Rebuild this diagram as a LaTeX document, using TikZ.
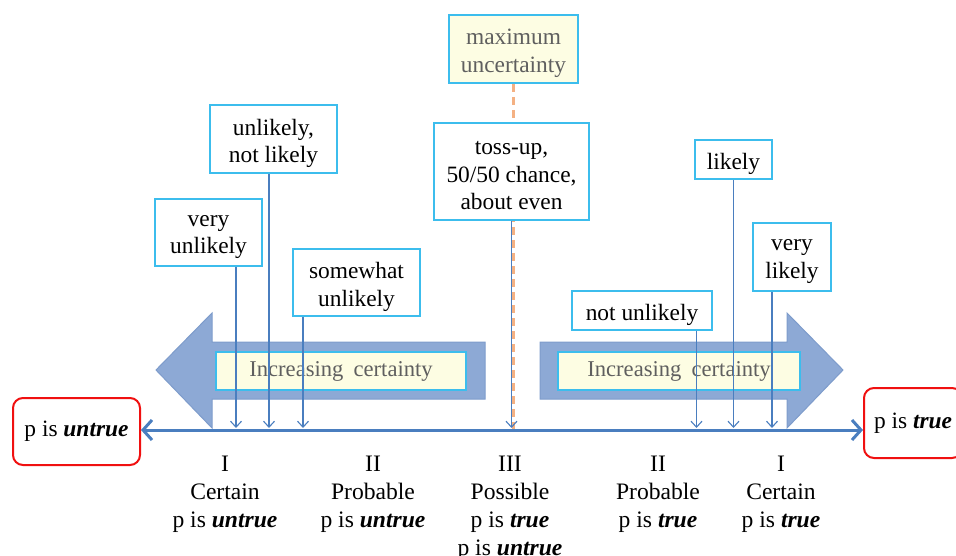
\documentclass[tikz,border=0pt]{standalone}
\usepackage{fontspec}
\setmainfont{Liberation Serif}
\usetikzlibrary{arrows.meta}

\definecolor{boxblue}{HTML}{3CBDED}
\definecolor{axisblue}{HTML}{4A7EBF}
\definecolor{bigfill}{HTML}{8DA9D5}
\definecolor{bigedge}{HTML}{7E9CCB}
\definecolor{paleyellow}{HTML}{FDFDE3}
\definecolor{softgray}{HTML}{5F5F5F}
\definecolor{softorange}{HTML}{F4B183}
\definecolor{alertred}{HTML}{F01010}

\tikzset{
  txt/.style={font=\fontsize{23.4}{27.5}\selectfont, align=center},
  labelbox/.style={draw=boxblue, line width=1.8pt, fill=white, inner sep=0pt},
  notebox/.style={labelbox, fill=paleyellow},
  % box texts sit slightly below the box centre
  boxtext/.style={txt, inner sep=0pt, yshift=-4.5pt},
  notetext/.style={boxtext, text=softgray},
  bandbox/.style={draw=boxblue, line width=1.2pt, fill=paleyellow, text=softgray,
    font=\fontsize{22.6}{27}\selectfont, inner sep=0pt},
  bigarrow/.style={fill=bigfill, draw=bigedge, line width=1pt},
  ptr/.style={draw=axisblue, line width=1.1pt, -{Straight Barb[length=6pt,width=11pt]}},
  axisline/.style={draw=axisblue, line width=3pt,
    {Straight Barb[length=9pt,width=20pt]}-{Straight Barb[length=9pt,width=20pt]}},
  endbox/.style={txt, draw=alertred, line width=2pt, rounded corners=10pt, fill=white},
  caption/.style={font=\fontsize{23.6}{28}\selectfont, align=center, inner sep=0pt, anchor=north}
}

\begin{document}
\begin{tikzpicture}[x=1pt,y=-1pt]
\useasboundingbox (0,0) rectangle (956,556);

% the two broad "increasing certainty" arrows
\path[bigarrow] (485,342) -- (212,342) -- (212,313) -- (156,370) -- (212,428)
  -- (212,399) -- (485,399) -- cycle;
\path[bigarrow] (540,342) -- (787,342) -- (787,313) -- (843,370) -- (787,428)
  -- (787,399) -- (540,399) -- cycle;
\node[bandbox, minimum width=250pt, minimum height=38pt] (bandL) at (341,371)
  {Increasing\hspace{0.45em}certainty};
\node[bandbox, minimum width=242pt, minimum height=38pt] (bandR) at (679,371)
  {Increasing\hspace{0.45em}certainty};

% end points of the scale
\node[endbox, minimum width=127pt, minimum height=67pt] (untrue) at (76.5,431.5)
  {p is \textbf{\textit{untrue}}};
\node[endbox, anchor=west, inner xsep=10pt, minimum height=70pt] (true) at (863,423)
  {p is \textbf{\textit{true}}};

% axis hit points of the verbal labels
\coordinate (hvu) at (236,428);
\coordinate (hul) at (269,428);
\coordinate (hsu) at (303,428);
\coordinate (hto) at (511.5,428);
\coordinate (hmx) at (513.5,429);
\coordinate (hnu) at (696.5,428);
\coordinate (hli) at (733.5,428);
\coordinate (hvl) at (772,428);

% maximum uncertainty marker
\node[notebox, minimum width=129pt, minimum height=68pt] (maxu) at (513.5,49) {};
\node[notetext] (maxut) at (maxu.center) {maximum\\uncertainty};
\draw[softorange, line width=3pt, dash pattern=on 8pt off 5pt] (maxu.south -| hmx) -- (hmx);

% verbal probability labels
\node[labelbox, minimum width=107pt, minimum height=67pt] (vu) at (208.5,232.5) {};
\node[boxtext] (vut) at (vu.center) {very\\unlikely};
\node[labelbox, minimum width=127pt, minimum height=68pt] (ul) at (273.5,139) {};
\node[boxtext] (ult) at (ul.center) {unlikely,\\not likely};
\node[labelbox, minimum width=127pt, minimum height=67pt] (su) at (356.5,282.5) {};
\node[boxtext] (sut) at (su.center) {somewhat\\unlikely};
\node[labelbox, minimum width=155pt, minimum height=97pt] (to) at (511.5,171.5) {};
\node[boxtext] (tot) at (to.center) {toss-up,\\50/50 chance,\\about even};
\node[labelbox, minimum width=140pt, minimum height=39pt] (nu) at (642,310.5) {};
\node[boxtext] (nut) at (nu.center) {not unlikely};
\node[labelbox, minimum width=77pt, minimum height=39pt] (li) at (733.5,159.5) {};
\node[boxtext] (lit) at (li.center) {likely};
\node[labelbox, minimum width=78pt, minimum height=68pt] (vl) at (792,257) {};
\node[boxtext] (vlt) at (vl.center) {very\\likely};

% pointers onto the scale
\draw[ptr] (vu.south -| hvu) -- (hvu);
\draw[ptr] (ul.south -| hul) -- (hul);
\draw[ptr] (su.south -| hsu) -- (hsu);
\draw[ptr] (to.south -| hto) -- (hto);
\draw[ptr] (nu.south -| hnu) -- (hnu);
\draw[ptr] (li.south -| hli) -- (hli);
\draw[ptr] (vl.south -| hvl) -- (hvl);

% the scale itself
\draw[axisline] (untrue.east |- 0,430) -- (true.west |- 0,430);

% category captions
\node[caption] (c1) at (225,456) {I\\Certain\\p is \textbf{\textit{untrue}}};
\node[caption] (c2) at (373,456) {II\\Probable\\p is \textbf{\textit{untrue}}};
\node[caption] (c3) at (510,456) {III\\Possible\\p is \textbf{\textit{true}}\\p is \textbf{\textit{untrue}}};
\node[caption] (c4) at (658,456) {II\\Probable\\p is \textbf{\textit{true}}};
\node[caption] (c5) at (781,456) {I\\Certain\\p is \textbf{\textit{true}}};
\end{tikzpicture}
\end{document}
